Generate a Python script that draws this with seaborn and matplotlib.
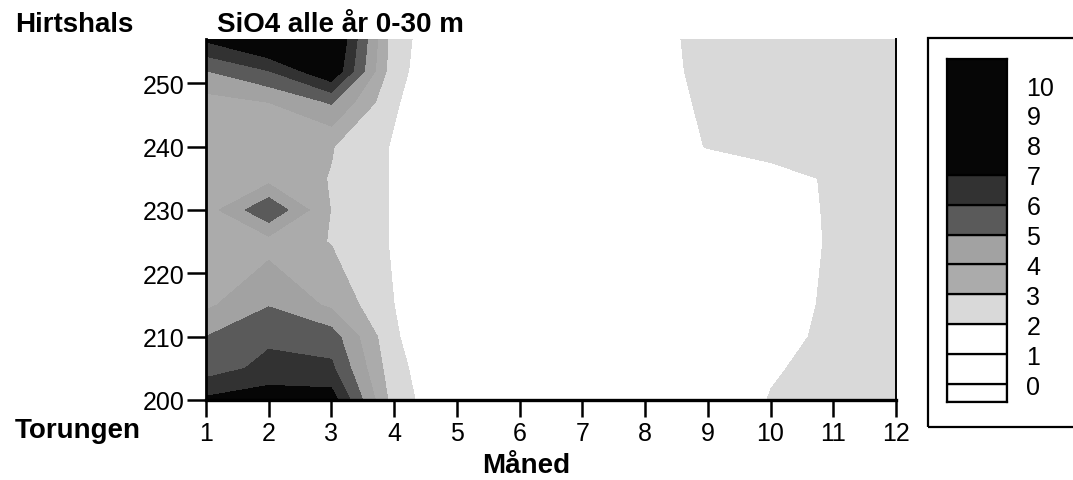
import numpy as np
import pandas as pd
import matplotlib
matplotlib.use("Agg")
import matplotlib.pyplot as plt
import matplotlib.patches as mpatches
import seaborn as sns

# ---------------- data ----------------
months = [1, 2, 3, 4, 5, 6, 7, 8, 9, 10, 11, 12]
stations = [200, 205, 210, 215, 225, 230, 235, 240, 247, 252, 257]

# SiO4 per month, from station 200 (Torungen) up to 257 (Hirtshals)
sio4_m01 = [7.2, 5.5, 5.0, 3.8, 3.6, 3.5, 3.5, 3.5, 3.6, 5.0, 7.2]
sio4_m02 = [7.6, 6.3, 5.8, 4.95, 3.6, 5.9, 3.6, 3.6, 4.0, 6.0, 8.5]
sio4_m03 = [7.5, 6.2, 5.5, 3.8, 2.95, 2.95, 2.95, 3.05, 5.1, 8.0, 8.5]
sio4_m04 = [2.5, 2.3, 2.1, 2.0, 1.9, 1.9, 1.9, 1.9, 2.1, 2.3, 2.4]
sio4_m05 = [1.0, 1.0, 1.0, 1.0, 1.0, 1.0, 1.0, 1.0, 1.0, 1.0, 1.0]
sio4_m06 = [1.0, 1.0, 1.0, 1.0, 1.0, 1.0, 1.0, 1.0, 1.0, 1.0, 1.0]
sio4_m07 = [1.0, 1.0, 1.0, 1.0, 1.0, 1.0, 1.0, 1.0, 1.0, 1.0, 1.0]
sio4_m08 = [1.0, 1.0, 1.0, 1.0, 1.0, 1.0, 1.0, 1.3, 1.4, 1.5, 1.6]
sio4_m09 = [1.2, 1.1, 1.0, 1.0, 1.0, 1.1, 1.2, 2.05, 2.2, 2.3, 2.3]
sio4_m10 = [2.05, 1.9, 1.7, 1.6, 1.5, 1.6, 1.7, 2.3, 2.4, 2.5, 2.6]
sio4_m11 = [2.4, 2.3, 2.2, 2.15, 2.1, 2.1, 2.1, 2.5, 2.6, 2.7, 2.8]
sio4_m12 = [2.7, 2.6, 2.5, 2.4, 2.3, 2.3, 2.4, 2.6, 2.7, 2.8, 2.9]

levels = [-0.6, 0, 1, 2, 3, 4, 5, 6, 7, 10.87]
band_colors = ["#ffffff", "#ffffff", "#ffffff", "#d9d9d9", "#ababab",
               "#a2a2a2", "#5a5a5a", "#323232", "#060606"]
cbar_labels = [0, 1, 2, 3, 4, 5, 6, 7, 8, 9, 10]
x_ticks = [1, 2, 3, 4, 5, 6, 7, 8, 9, 10, 11, 12]
y_ticks = [200, 210, 220, 230, 240, 250]

df = pd.DataFrame({1: sio4_m01, 2: sio4_m02, 3: sio4_m03, 4: sio4_m04,
                   5: sio4_m05, 6: sio4_m06, 7: sio4_m07, 8: sio4_m08,
                   9: sio4_m09, 10: sio4_m10, 11: sio4_m11, 12: sio4_m12},
                  index=stations)

# ---------------- style ----------------
sns.set_theme(style="ticks")
plt.rcParams["font.family"] = ["Liberation Sans", "DejaVu Sans"]
plt.rcParams["axes.edgecolor"] = "black"
plt.rcParams["xtick.color"] = "black"
plt.rcParams["ytick.color"] = "black"
plt.rcParams["text.color"] = "black"

W, H = 1073, 481
fig = plt.figure(figsize=(W / 100, H / 100), dpi=100)
fig.patch.set_facecolor("white")

ax = fig.add_axes([206 / W, 1 - 401 / H, (896 - 206) / W, (401 - 40) / H])
ax.contourf(df.columns.values, df.index.values, df.values,
            levels=levels, colors=band_colors)
ax.set_xlim(1, 12)
ax.set_ylim(200, 257)
ax.set_xticks(x_ticks)
ax.set_yticks(y_ticks)
ax.tick_params(axis="both", labelsize=18, width=1.8, direction="out",
               colors="black")
ax.tick_params(axis="x", length=12, pad=3)
ax.tick_params(axis="y", length=14, pad=1.5)
ax.spines["top"].set_visible(False)
ax.spines["left"].set_linewidth(2.0)
ax.spines["bottom"].set_linewidth(2.4)
ax.spines["right"].set_linewidth(1.4)
ax.set_xlabel("")
ax.set_ylabel("")

# texts
fig.text(15 / W, 1 - 32 / H, "Hirtshals", fontsize=20, fontweight="bold",
         ha="left", va="baseline")
fig.text(217 / W, 1 - 32 / H, "SiO4 alle år 0-30 m", fontsize=20,
         fontweight="bold", ha="left", va="baseline")
fig.text(15 / W, 1 - 438 / H, "Torungen", fontsize=20, fontweight="bold",
         ha="left", va="baseline")
fig.text(482 / W, 1 - 473 / H, "Måned", fontsize=20, fontweight="bold",
         ha="left", va="baseline")

# legend frame
frame = mpatches.Rectangle((928 / W, 1 - 428 / H), (1090 - 928) / W,
                           (428 - 39) / H, transform=fig.transFigure,
                           fill=False, lw=1.6, ec="black")
fig.add_artist(frame)

# colour bar built from the level bands
cax = fig.add_axes([947 / W, 1 - 403 / H, 60 / W, 343 / H])
cax.bar(0, np.diff(levels), bottom=levels[:-1], width=1.0,
        color=band_colors, edgecolor="black", linewidth=1.6)
cax.set_xlim(-0.5, 0.5)
cax.set_ylim(-0.6, 10.87)
cax.set_xticks([])
cax.yaxis.tick_right()
cax.set_yticks(cbar_labels)
cax.tick_params(axis="y", length=0, pad=14, labelsize=18)
for s in cax.spines.values():
    s.set_linewidth(1.6)
    s.set_visible(True)

fig.savefig("out.png", dpi=100, facecolor="white")
